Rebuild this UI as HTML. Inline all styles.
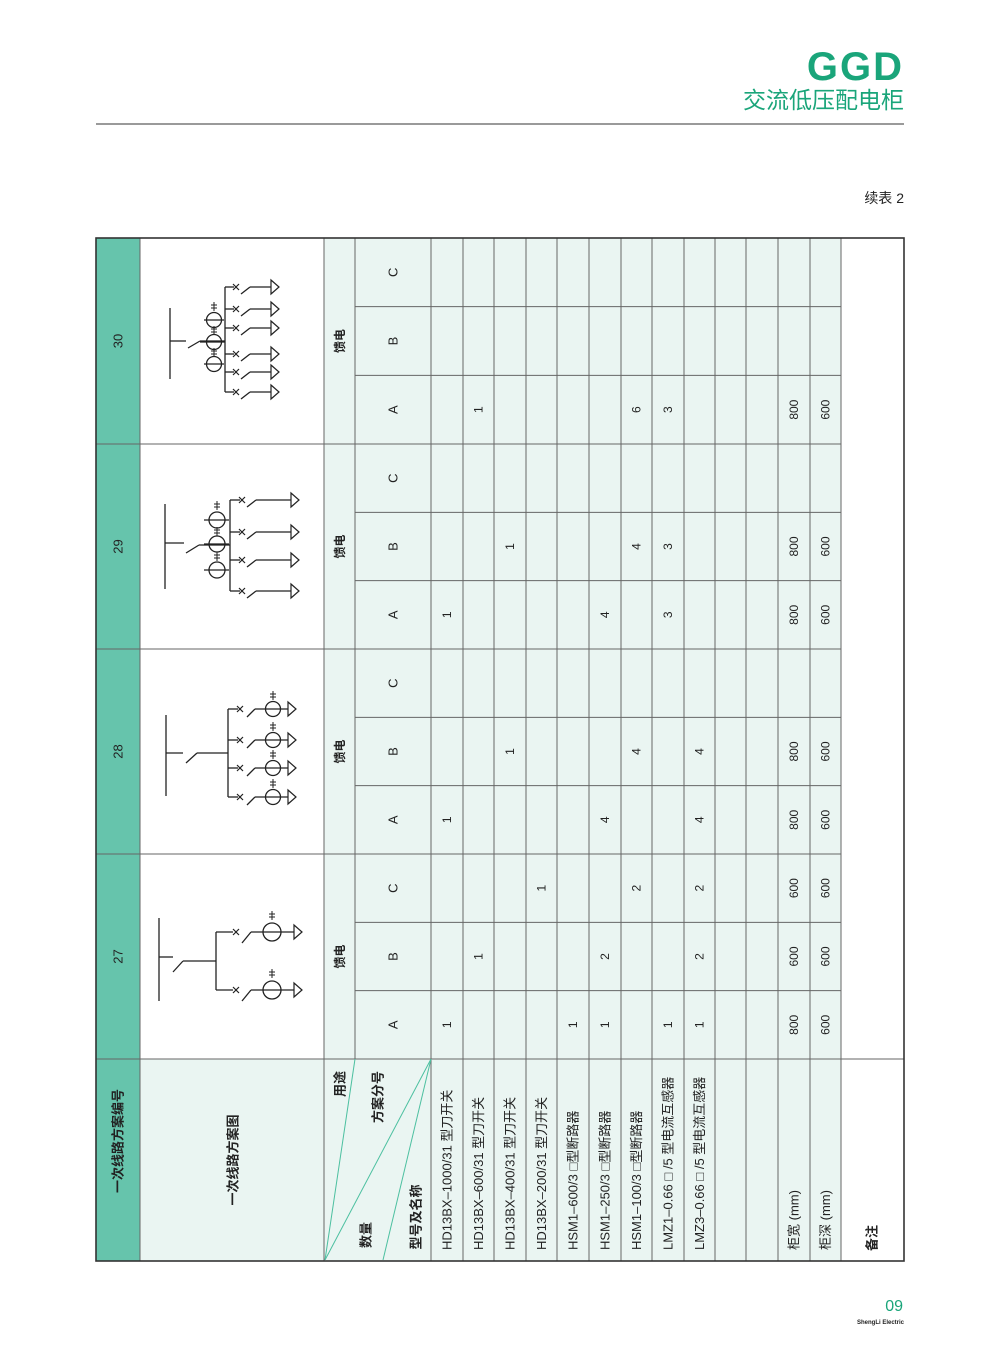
<!DOCTYPE html>
<html><head><meta charset="utf-8">
<style>
html,body{margin:0;padding:0;background:#fff;}
body{width:1000px;height:1357px;position:relative;overflow:hidden;font-family:"Liberation Sans","Noto Sans CJK SC",sans-serif;}
svg text{font-family:"Liberation Sans","Noto Sans CJK SC",sans-serif;}
</style></head>
<body>
<svg id="s" width="1000" height="1357" viewBox="0 0 1000 1357" xmlns="http://www.w3.org/2000/svg">
<text x="904" y="80" text-anchor="end" font-size="40" font-weight="bold" fill="#1aa57a" letter-spacing="2">GGD</text>
<text x="904" y="108" text-anchor="end" font-size="23" fill="#1aa57a">交流低压配电柜</text>
<rect x="96" y="123" width="808" height="2" fill="#9a9a9a"/>
<text x="904" y="203" text-anchor="end" font-size="14" fill="#222">续表 2</text>
<text x="903" y="1311" text-anchor="end" font-size="16" fill="#1aa57a">09</text>
<text x="904" y="1324" text-anchor="end" font-size="6" font-weight="bold" fill="#222">ShengLi Electric</text>
<g id="t"></g>
</svg>
<script>
var g=document.getElementById('t');var h='';
var X=[96,140,324,355,431,463,494,526,557,589,621,652,684,715,746,778,810,841,904];
var S=[238,444,649,854,1059];
function rt(x,y,s,fs,anc,fw){return '<text transform="translate('+x+','+y+') rotate(-90)" text-anchor="'+(anc||'middle')+'" dominant-baseline="central" font-size="'+(fs||13)+'" fill="#222"'+(fw?' font-weight="bold"':'')+'>'+s+'</text>';}
function L(a,b,c,d,col,w){return '<line x1="'+a+'" y1="'+b+'" x2="'+c+'" y2="'+d+'" stroke="'+(col||'#222')+'" stroke-width="'+(w||1.3)+'"/>';}
h+='<rect x="96" y="238" width="44" height="1023" fill="#66c4ac"/>';
h+='<rect x="140" y="1059" width="184" height="202" fill="#eaf5f2"/>';
h+='<rect x="324" y="238" width="517" height="1023" fill="#eaf5f2"/>';
var gc='#666';
for(var i=1;i<X.length-1;i++){var y2=(X[i]==355)?1059:1261;h+=L(X[i],238,X[i],y2,gc,1);}
for(var j=1;j<4;j++)h+=L(96,S[j],841,S[j],gc,1);
h+=L(96,1059,904,1059,gc,1);
for(var j=0;j<4;j++){var w=(S[j+1]-S[j])/3;for(var k=1;k<3;k++){var yy=S[j]+w*k;h+=L(355,yy,841,yy,gc,1);}}
h+='<rect x="96" y="238" width="808" height="1023" fill="none" stroke="#333" stroke-width="1.6"/>';
h+=L(325,1260,355,1059,'#4cc0a0',1);h+=L(325,1260,431,1059,'#4cc0a0',1);h+=L(383,1260,431,1059,'#4cc0a0',1);
var nums=['30','29','28','27'];
for(var j=0;j<4;j++){var c=(S[j]+S[j+1])/2;h+=rt(118,c,nums[j],13);h+=rt(340,c,'馈电',12,null,true);
 var w=(S[j+1]-S[j])/3;var ab=['C','B','A'];for(var k=0;k<3;k++)h+=rt(393,S[j]+w*(k+.5),ab[k],13);}
h+=rt(118,1141,'一次线路方案编号',13,null,true);
h+=rt(233,1160,'一次线路方案图',13,null,true);
h+=rt(340,1084,'用途',13,null,true);h+=rt(378,1097,'方案分号',13,null,true);
h+=rt(366,1235,'数量',13,null,true);h+=rt(416,1217,'型号及名称',13,null,true);
var labs=['HD13BX–1000/31 型刀开关','HD13BX–600/31 型刀开关','HD13BX–400/31 型刀开关','HD13BX–200/31 型刀开关','HSM1–600/3 □型断路器','HSM1–250/3 □型断路器','HSM1–100/3 □型断路器','LMZ1–0.66 □ /5 型电流互感器','LMZ3–0.66 □ /5 型电流互感器','','','柜宽 (mm)','柜深 (mm)'];
for(var r=0;r<13;r++){if(labs[r])h+=rt((X[r+4]+X[r+5])/2,1250,labs[r],13,'start');}
h+=rt(872,1238,'备注',13,null,true);
var D={'0A':{1:'1',6:'6',7:'3',11:'800',12:'600'},
'1A':{0:'1',5:'4',7:'3',11:'800',12:'600'},'1B':{2:'1',6:'4',7:'3',11:'800',12:'600'},
'2A':{0:'1',5:'4',8:'4',11:'800',12:'600'},'2B':{2:'1',6:'4',8:'4',11:'800',12:'600'},
'3A':{0:'1',4:'1',5:'1',7:'1',8:'1',11:'800',12:'600'},'3B':{1:'1',5:'2',8:'2',11:'600',12:'600'},'3C':{3:'1',6:'2',8:'2',11:'600',12:'600'}};
for(var key in D){var j=+key[0];var k={'C':0,'B':1,'A':2}[key[1]];var w=(S[j+1]-S[j])/3;var cy=S[j]+w*(k+.5);
 for(var r in D[key])h+=rt((X[+r+4]+X[+r+5])/2,cy,D[key][r],12);}
function tri(x,y){return '<polygon points="'+x+','+(y-7)+' '+(x+8)+','+y+' '+x+','+(y+7)+'" fill="#fff" stroke="#222" stroke-width="1.2"/>';}
function cross(x,y){return L(x-3,y-3,x+3,y+3,'#222',1.2)+L(x-3,y+3,x+3,y-3,'#222',1.2);}
function circ(x,y,r){return '<circle cx="'+x+'" cy="'+y+'" r="'+r+'" fill="none" stroke="#222" stroke-width="1.3"/>';}
function ticks(x,y){return L(x-3,y-2,x+3,y-2,'#222',1)+L(x-3,y+1,x+3,y+1,'#222',1)+L(x,y-5,x,y+4,'#222',1);}
function branch(vx,y,xm,le,tx){return L(vx,y,xm-2,y)+cross(xm,y)+L(xm+5,y+7,xm+14,y)+L(xm+14,y,tx,y)+tri(tx,y);}
h+=L(170,308,170,379)+L(170,341,186,341)+L(188,348,200,341)+L(200,341,225,341);
[320,342,364].forEach(function(y,i){h+=circ(214,y,7.5)+L(i==1?200:204,y,i==1?225:224,y);});
h+=ticks(214,307)+ticks(214,331)+ticks(214,353);
h+=L(225,287,225,392);
[287,309,328,354,372,392].forEach(function(y){h+=branch(225,y,236,0,271);});
h+=L(165,504,165,589)+L(165,543,184,543)+L(186,553,199,545)+L(199,545,230,545);
[520,544,570].forEach(function(y){h+=circ(217,y,8)+L(204,y,229,y);});
h+=ticks(217,506)+ticks(217,532)+ticks(217,557);
h+=L(230,500,230,591);
[500,532,560,591].forEach(function(y){h+=branch(230,y,242,0,291);});
h+=L(166,715,166,796)+L(166,753,183,753)+L(186,763,197,753)+L(197,753,228,753)+L(228,709,228,797);
[709,740,768,797].forEach(function(y){h+=L(228,y,238,y)+cross(240,y)+L(247,y+8,255,y)+L(255,y,288,y)+circ(273,y,7.5)+ticks(273,y-13)+tri(288,y);});
h+=L(159,918,159,1001)+L(159,957,173,957)+L(173,972,183,961)+L(183,961,216,961)+L(216,932,216,990);
[932,990].forEach(function(y){h+=L(216,y,233,y)+cross(236,y)+L(242,y+11,251,y)+L(251,y,294,y)+circ(272,y,9)+ticks(272,y-16)+tri(294,y);});
g.innerHTML=h;
</script>
</body></html>
